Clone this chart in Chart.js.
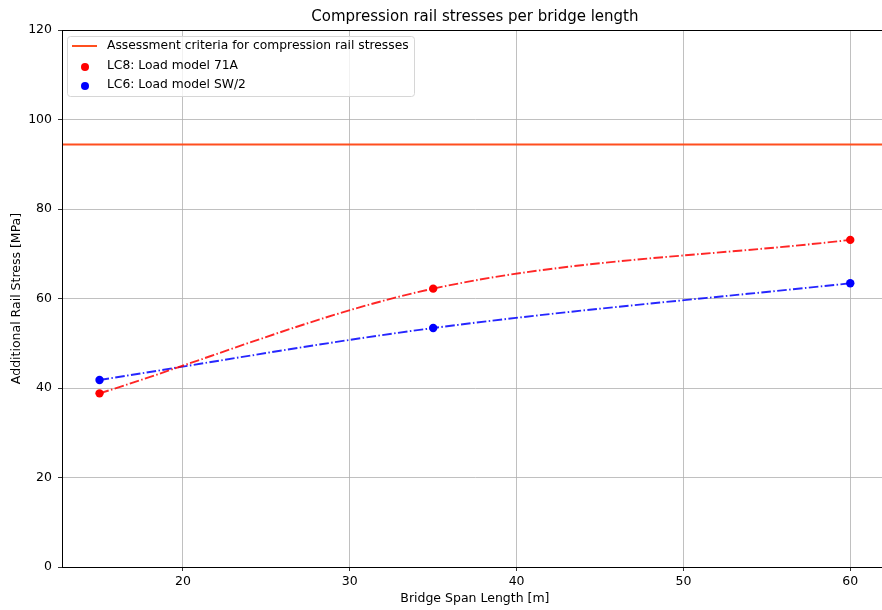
<!DOCTYPE html>
<html>
<head>
<meta charset="utf-8">
<script src="https://cdn.jsdelivr.net/npm/chart.js@4/dist/chart.umd.min.js"></script>
<style>
  html, body { margin:0; padding:0; background:#fff; overflow:hidden; }
</style>
</head>
<body>
<canvas id="chart" width="892" height="610"></canvas>
<script>
// data
const spans = [15, 35, 60];
const lc8 = [38.8, 62.2, 73.1];
const lc6 = [41.8, 53.4, 63.4];
const criteria = 94.4;
const xTicks = [20, 30, 40, 50, 60];
const yTicks = [0, 20, 40, 60, 80, 100, 120];
const xRange = [12.75, 62.25];   // right edge of the axes falls just outside the picture
const labels = ['Assessment criteria for compression rail stresses', 'LC8: Load model 71A', 'LC6: Load model SW/2'];
const title = 'Compression rail stresses per bridge length';

const FONT = "'DejaVu Sans', sans-serif";
const pts = ys => spans.map((x, i) => ({x, y: ys[i]}));

// title centred over the axes (matplotlib style), not over the canvas
const axTitle = {
  id: 'axTitle',
  afterDraw(chart){
    const {ctx, chartArea: a} = chart;
    ctx.save();
    ctx.font = '15px ' + FONT; ctx.fillStyle = '#000';
    ctx.textAlign = 'center'; ctx.textBaseline = 'middle';
    ctx.fillText(title, (a.left + a.right) / 2, 17);
    ctx.restore();
  }
};

// legend drawn inside the plot, top left
const boxLegend = {
  id: 'boxLegend',
  afterDraw(chart){
    const {ctx, chartArea: a} = chart;
    const x = a.left + 5, y = a.top + 6, w = 347, h = 60;
    ctx.save();
    ctx.fillStyle = 'rgba(255,255,255,0.8)';
    ctx.strokeStyle = '#d6d6d6';
    ctx.lineWidth = 1;
    ctx.beginPath(); ctx.roundRect(x + 0.5, y + 0.5, w, h, 3); ctx.fill(); ctx.stroke();
    ctx.font = '12.3px ' + FONT;
    ctx.textBaseline = 'middle';
    const rows = [y + 10, y + 30, y + 49];
    ctx.strokeStyle = '#ff4f1f'; ctx.lineWidth = 2;
    ctx.beginPath(); ctx.moveTo(x + 5, rows[0]); ctx.lineTo(x + 30, rows[0]); ctx.stroke();
    ['red', 'blue'].forEach((c, i) => {
      ctx.fillStyle = c;
      ctx.beginPath(); ctx.arc(x + 18, rows[i + 1] + 1, 4, 0, Math.PI * 2); ctx.fill();
    });
    ctx.fillStyle = '#000';
    labels.forEach((t, i) => ctx.fillText(t, x + 40, rows[i]));
    ctx.restore();
  }
};

// top and right spines
const frame = {
  id: 'frame',
  afterDraw(chart){
    const {ctx, chartArea: a} = chart;
    ctx.save(); ctx.strokeStyle = '#000'; ctx.lineWidth = 1;
    ctx.strokeRect(a.left + 0.5, a.top + 0.5, a.right - a.left - 1, a.bottom - a.top);
    ctx.restore();
  }
};

const series = (label, ys, color) => ({
  label, data: pts(ys), showLine: true,
  borderColor: color.replace('1)', '0.85)'), borderWidth: 1.9, borderDash: [9.6, 2.4, 1.5, 2.4],
  cubicInterpolationMode: 'monotone',
  pointRadius: 4.2, pointBackgroundColor: color, pointBorderColor: color, pointBorderWidth: 0
});

new Chart(document.getElementById('chart'), {
  type: 'scatter',
  data: {
    datasets: [
      { label: labels[0], data: [{x: xRange[0], y: criteria}, {x: xRange[1], y: criteria}], showLine: true,
        borderColor: '#ff4f1f', borderWidth: 2, pointRadius: 0 },
      series(labels[1], lc8, 'rgba(255,0,0,1)'),
      series(labels[2], lc6, 'rgba(0,0,255,1)')
    ]
  },
  options: {
    responsive: false, animation: false, events: [],
    layout: { padding: { top: 30, right: 0, bottom: 0, left: 0 } },
    plugins: { legend: { display: false }, tooltip: { enabled: false }, title: { display: false } },
    scales: {
      x: {
        type: 'linear', min: xRange[0], max: xRange[1],
        afterBuildTicks: s => { s.ticks = xTicks.map(v => ({value: v})); },
        afterFit: s => { s.height = 43; },
        grid: { color: '#b0b0b0', lineWidth: 0.8, tickLength: 4, tickColor: '#000' },
        border: { display: true, color: '#000', width: 1 },
        ticks: { color: '#000', font: { family: FONT, size: 12.5 }, padding: 3, maxRotation: 0 },
        title: { display: true, text: 'Bridge Span Length [m]', color: '#000', font: { family: FONT, size: 12.5 }, padding: { top: 2 } }
      },
      y: {
        min: 0, max: 120,
        afterBuildTicks: s => { s.ticks = yTicks.map(v => ({value: v})); },
        afterFit: s => { s.width = 62; },
        grid: { color: '#b0b0b0', lineWidth: 0.8, tickLength: 4, tickColor: '#000' },
        border: { display: true, color: '#000', width: 1 },
        ticks: { color: '#000', font: { family: FONT, size: 12.5 }, padding: 6 },
        title: { display: true, text: 'Additional Rail Stress [MPa]', color: '#000', font: { family: FONT, size: 12.5 }, padding: { top: 9.5, bottom: 0 } }
      }
    }
  },
  plugins: [boxLegend, frame, axTitle]
});
</script>
</body>
</html>
